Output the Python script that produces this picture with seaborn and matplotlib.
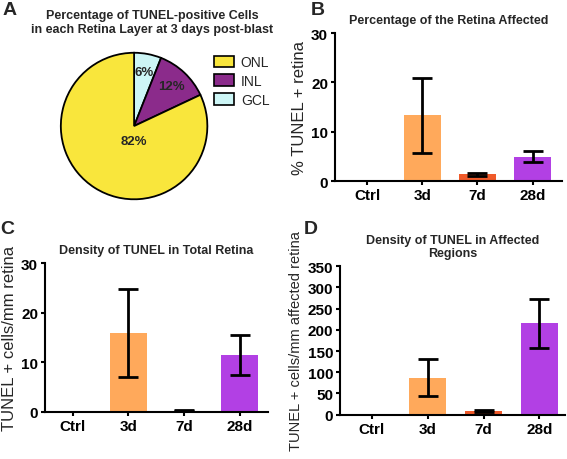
import matplotlib
matplotlib.use("Agg")
import matplotlib.pyplot as plt
from matplotlib.patches import Patch
import numpy as np
import seaborn as sns

# pie data (panel A)
layers = ["GCL", "INL", "ONL"]
layer_pct = [6, 12, 82]
layer_colors = ["#cdf6f6", "#8b2b8b", "#f9e63c"]
legend_order = ["ONL", "INL", "GCL"]

# bar data (panels B, C, D)
groups = ["Ctrl", "3d", "7d", "28d"]
bar_colors = ["#ffa95b", "#ffa95b", "#f05a2a", "#b240e4"]

pct_affected = [0, 13.3, 1.5, 4.9]
pct_low = [0, 5.6, 1.1, 3.8]
pct_high = [0, 20.8, 1.7, 6.0]

dens_total = [0, 15.9, 0.2, 11.5]
dens_total_low = [0, 7.0, 0.1, 7.4]
dens_total_high = [0, 24.7, 0.3, 15.5]

dens_aff = [0, 87, 9, 216]
dens_aff_low = [0, 43, 6, 158]
dens_aff_high = [0, 131, 12, 272]

sns.set_theme(style="ticks")
plt.rcParams["font.family"] = ["Liberation Sans", "DejaVu Sans"]

fig = plt.figure(figsize=(5.67, 4.60), dpi=100)
fig.patch.set_facecolor("white")


def bar_panel(ax, values, low, high, yticks, title, ylabel, ylabel_size, xlim):
    sns.barplot(x=groups, y=values, hue=groups, palette=bar_colors, legend=False,
                width=0.67, ax=ax, saturation=1, edgecolor="none")
    vals = np.array(values, dtype=float)
    yerr = np.vstack([vals - np.array(low), np.array(high) - vals])
    idx = [i for i, v in enumerate(values) if v > 0]
    ax.errorbar(np.arange(len(groups))[idx], vals[idx], yerr=yerr[:, idx], fmt="none",
                ecolor="black", elinewidth=2, capsize=7, capthick=2)
    ax.set_ylim(yticks[0], yticks[-1])
    ax.set_yticks(yticks)
    ax.set_xlim(*xlim)
    sns.despine(ax=ax)
    for s in ["left", "bottom"]:
        ax.spines[s].set_linewidth(1.5)
        ax.spines[s].set_color("black")
    ax.tick_params(axis="both", direction="out", length=3, width=1.5, colors="black",
                   labelsize=11, pad=2)
    for lab in ax.get_xticklabels() + ax.get_yticklabels():
        lab.set_fontweight("bold")
    ax.set_title(title, fontsize=9, fontweight="bold", pad=7)
    ax.set_ylabel(ylabel, fontsize=ylabel_size, labelpad=3)
    ax.set_xlabel("")
    ax.set_facecolor("white")
    ax.grid(False)


# Panel A: pie
ax_a = fig.add_axes([0.106, 0.563, 0.261, 0.3217])
wedges, texts, autotexts = ax_a.pie(
    layer_pct, colors=layer_colors, startangle=90, counterclock=False,
    autopct="%d%%", pctdistance=0.75,
    wedgeprops=dict(edgecolor="black", linewidth=1.3),
    textprops=dict(fontsize=9.5, fontweight="bold"))
autotexts[2].set_position((0, -0.2))
ax_a.set_xlim(-1.01, 1.01)
ax_a.set_ylim(-1.01, 1.01)
ax_a.set_aspect("equal")
handles = [Patch(facecolor=layer_colors[layers.index(n)], edgecolor="black", linewidth=1.2)
           for n in legend_order]
fig.legend(handles, legend_order, loc="upper left", bbox_to_anchor=(0.366, 0.893),
           frameon=False, fontsize=10, handlelength=1.4, handleheight=0.9,
           labelspacing=0.35, handletextpad=0.5, borderpad=0)
fig.text(0.268, 0.978, "Percentage of TUNEL-positive Cells\nin each Retina Layer at 3 days post-blast",
         ha="center", va="top", fontsize=9, fontweight="bold", linespacing=1.2)

# Panel B
ax_b = fig.add_axes([0.5908, 0.6043, 0.4004, 0.3217])
bar_panel(ax_b, pct_affected, pct_low, pct_high, [0, 10, 20, 30],
          "Percentage of the Retina Affected", "% TUNEL + retina", 12, (-0.58, 3.53))

# Panel C
ax_c = fig.add_axes([0.0794, 0.1028, 0.393, 0.323])
bar_panel(ax_c, dens_total, dens_total_low, dens_total_high, [0, 10, 20, 30],
          "Density of TUNEL in Total Retina", "TUNEL + cells/mm retina", 12, (-0.5, 3.51))

# Panel D
ax_d = fig.add_axes([0.5996, 0.0963, 0.397, 0.323])
bar_panel(ax_d, dens_aff, dens_aff_low, dens_aff_high, list(range(0, 351, 50)),
          "Density of TUNEL in Affected\nRegions", "TUNEL + cells/mm affected retina", 10.5, (-0.57, 3.46))
ax_d.title.set_linespacing(1.1)

for letter, x, y in [("A", 0.005, 0.995), ("B", 0.548, 0.995), ("C", 0.0, 0.52), ("D", 0.535, 0.52)]:
    fig.text(x, y, letter, fontsize=14, fontweight="bold", ha="left", va="top")

fig.savefig("out.png", dpi=100, facecolor="white")
